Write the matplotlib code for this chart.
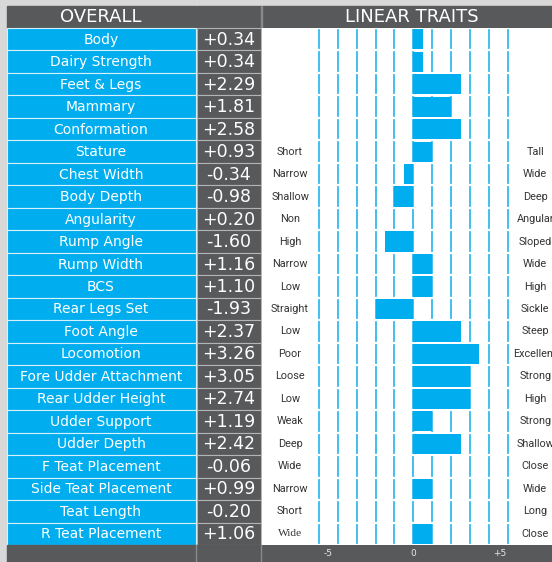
import matplotlib
matplotlib.use("Agg")
import matplotlib.pyplot as plt
from matplotlib.patches import Rectangle

traits = ["Body", "Dairy Strength", "Feet & Legs", "Mammary", "Conformation",
          "Stature", "Chest Width", "Body Depth", "Angularity", "Rump Angle",
          "Rump Width", "BCS", "Rear Legs Set", "Foot Angle", "Locomotion",
          "Fore Udder Attachment", "Rear Udder Height", "Udder Support",
          "Udder Depth", "F Teat Placement", "Side Teat Placement",
          "Teat Length", "R Teat Placement"]
scores = ["+0.34", "+0.34", "+2.29", "+1.81", "+2.58", "+0.93", "-0.34", "-0.98",
          "+0.20", "-1.60", "+1.16", "+1.10", "-1.93", "+2.37", "+3.26", "+3.05",
          "+2.74", "+1.19", "+2.42", "-0.06", "+0.99", "-0.20", "+1.06"]
# bar lengths as drawn (the graphic snaps them to half steps)
bar_len = [0.5, 0.5, 2.5, 2.0, 2.5, 1.0, -0.5, -1.0, 0.0, -1.5, 1.0, 1.0, -2.0,
           2.5, 3.5, 3.0, 3.0, 1.0, 2.5, 0.0, 1.0, 0.0, 1.0]
low_labels = ["", "", "", "", "", "Short", "Narrow", "Shallow", "Non", "High",
              "Narrow", "Low", "Straight", "Low", "Poor", "Loose", "Low", "Weak",
              "Deep", "Wide", "Narrow", "Short", "Wide"]
high_labels = ["", "", "", "", "", "Tall", "Wide", "Deep", "Angular", "Sloped",
               "Wide", "High", "Sickle", "Steep", "Excellent", "Strong", "High",
               "Strong", "Shallow", "Close", "Wide", "Long", "Close"]
grid_ticks = [-5, -4, -3, -2, -1, 0, 1, 2, 3, 4, 5]
axis_labels = ["-5", "0", "+5"]

BLUE = "#00aeef"
DARK = "#58595b"
W, H = 552, 562
n = len(traits)
top, bot = 28, 545
rh = (bot - top) / n
x0_px, unit_px = 413.3, 18.9

fig = plt.figure(figsize=(W / 100, H / 100), dpi=100, facecolor="#d8d8d8")

# table part, pixel layout
bg = fig.add_axes([0, 0, 1, 1])
bg.set_xlim(0, W)
bg.set_ylim(H, 0)
bg.axis("off")

bg.add_patch(Rectangle((7, 6), 189, top - 6, color=DARK))
bg.add_patch(Rectangle((196.5, 6), 64.5, top - 6, color=DARK))
bg.add_patch(Rectangle((262, 6), W - 262, top - 6, color=DARK))
bg.add_patch(Rectangle((261, 6), 1, top - 6, color="#8a8a8a"))
bg.text(101, 17.5, "OVERALL", color="white", fontsize=13, ha="center", va="center")
bg.text(412, 17.5, "LINEAR TRAITS", color="white", fontsize=13, ha="center", va="center")

for i in range(n):
    y = top + i * rh
    bg.add_patch(Rectangle((7, y), 189, rh, facecolor=BLUE, edgecolor="#d6f1fc", lw=0.8))
    bg.add_patch(Rectangle((196.5, y), 64.5, rh, facecolor=DARK, edgecolor="#b4b4b4", lw=0.8))
    bg.text(101, y + rh / 2 + 0.5, traits[i], color="white", fontsize=10,
            ha="center", va="center")
    bg.text(228.7, y + rh / 2 + 0.5, scores[i], color="white", fontsize=12.5,
            ha="center", va="center")

bg.add_patch(Rectangle((7, bot), W - 7, H - bot, color=DARK))
bg.plot([196, 196], [bot, H], color="#8a8a8a", lw=1)
bg.plot([261, 261], [bot, H], color="#8a8a8a", lw=1)

# bar chart part
ax = fig.add_axes([262 / W, (H - bot) / H, (W - 262) / W, (bot - top) / H])
ax.set_xlim((262 - x0_px) / unit_px, (W - x0_px) / unit_px)
ax.set_ylim(n - 0.5, -0.5)
for s in ax.spines.values():
    s.set_visible(False)

ax.vlines(grid_ticks, -0.5, n - 0.5, color="#33b9f0", lw=1.3, zorder=1)
for i in range(n + 1):
    ax.axhline(i - 0.5, color="white", lw=1.6, zorder=1.5)
ax.barh(range(n), bar_len, height=0.9, color=BLUE, zorder=2)

for i in range(n):
    fam = "Liberation Serif" if i == n - 1 else "Roboto"
    ax.text(-6.52, i, low_labels[i], fontsize=8.2 if i == n - 1 else 7.8,
            color="#333333", family=fam, ha="center", va="center")
    ax.text(6.45, i, high_labels[i], fontsize=7.8, color="#333333", family="Roboto",
            ha="center", va="center")

ax.set_yticks([])
ax.set_xticks([-4.5, 0, 4.55], axis_labels)
ax.tick_params(axis="x", length=0, pad=3, labelsize=6.5, labelcolor="#e8e8e8")

fig.savefig("out.png", dpi=100, facecolor=fig.get_facecolor())
